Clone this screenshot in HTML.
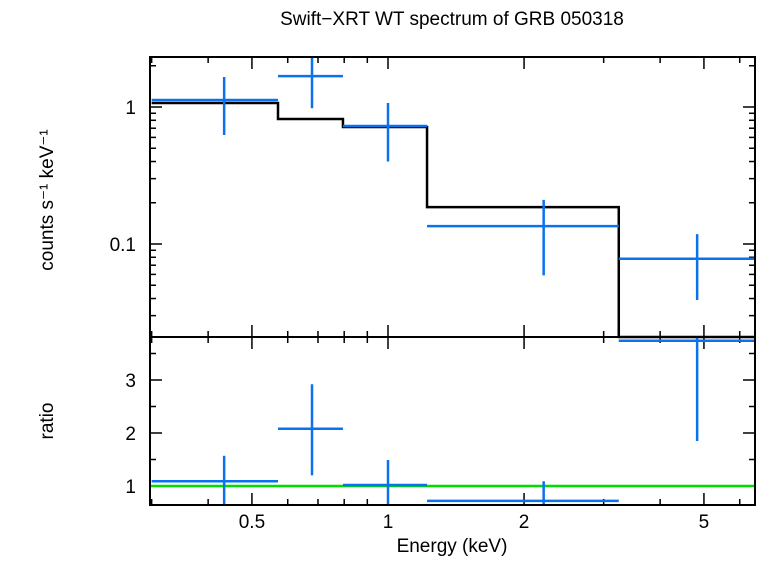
<!DOCTYPE html>
<html><head><meta charset="utf-8"><style>body{margin:0;background:#fff}svg text{font-family:"Liberation Sans",sans-serif}</style></head>
<body>
<svg id="c" width="758" height="556"></svg>
<script>
const edges=[0.3,0.571,0.795,1.22,3.24,6.49];
const centers=[0.434,0.679,1.0,2.21,4.83];
const rate=[1.125,1.68,0.727,0.135,0.078];
const rateHi=[1.655,2.3,1.07,0.21,0.118];
const rateLo=[0.625,0.98,0.40,0.059,0.039];
const model=[1.07,0.818,0.715,0.186,0.015];
const ratio=[1.09,2.08,1.02,0.72,3.74];
const ratioHi=[1.57,2.92,1.49,1.09,4.2];
const ratioLo=[0.55,1.2,0.55,0.3,1.85];
const xTicks=[0.5,1,2,5];
const yTopTicks=[0.1,1];
const yBotTicks=[1,2,3];
const X0=150,X1=755,T0=57,T1=337,B1=505;
const xs=e=>388+452*Math.log10(e);
const yt=v=>Math.min(T1,Math.max(T0,107-137*Math.log10(v)));
const yb=v=>Math.min(B1,Math.max(T1,486-53*(v-1)));
const svg=document.getElementById('c');const NS='http://www.w3.org/2000/svg';
function el(t,a,txt){const e=document.createElementNS(NS,t);for(const k in a)e.setAttribute(k,a[k]);if(txt!==undefined)e.textContent=txt;svg.appendChild(e);return e;}
function ln(x1,y1,x2,y2,c,w){return el('line',{x1,y1,x2,y2,stroke:c,'stroke-width':w});}
let e;
e=el('text',{x:452,y:25,'text-anchor':'middle','font-size':19},'Swift−XRT WT spectrum of GRB 050318');

e=el('text',{x:452,y:552,'text-anchor':'middle','font-size':19},'Energy (keV)');

e=el('text',{x:0,y:0,'text-anchor':'middle','font-size':19,transform:'translate(53,200) rotate(-90)'},'counts s⁻¹ keV⁻¹');

e=el('text',{x:0,y:0,'text-anchor':'middle','font-size':19,transform:'translate(53,421) rotate(-90)'},'ratio');

for(let d=0.3;d<=6.5;){const x=xs(d);const major=xTicks.includes(+d.toFixed(2))||d===1;const L=major?12:6;
 ln(x,T0,x,T0+L,'#000',1.5);ln(x,T1,x,T1-L,'#000',1.5);ln(x,T1,x,T1+L,'#000',1.5);ln(x,B1,x,B1-L,'#000',1.5);
 d=+(d<1?d+0.1:d+1).toFixed(2);}
xTicks.forEach(t=>{e=el('text',{x:xs(t),y:528,'text-anchor':'middle','font-size':19},String(t));});
[0.03,0.04,0.05,0.06,0.07,0.08,0.09,0.1,0.2,0.3,0.4,0.5,0.6,0.7,0.8,0.9,1,2].forEach(v=>{const y=yt(v);const L=yTopTicks.includes(v)?12:6;ln(X0,y,X0+L,y,'#000',1.5);ln(X1,y,X1-L,y,'#000',1.5);});
yTopTicks.forEach(t=>{e=el('text',{x:136,y:yt(t)+7,'text-anchor':'end','font-size':19},String(t));});
[1,1.5,2,2.5,3,3.5].forEach(v=>{const y=yb(v);const L=Number.isInteger(v)?12:6;ln(X0,y,X0+L,y,'#000',1.5);ln(X1,y,X1-L,y,'#000',1.5);});
yBotTicks.forEach(t=>{e=el('text',{x:136,y:yb(t)+7,'text-anchor':'end','font-size':19},String(t));});
let p='';model.forEach((m,i)=>{const y=yt(m);p+=(i?'L':'M')+xs(edges[i])+','+y+'L'+xs(edges[i+1])+','+y;});
e=el('path',{d:p,fill:'none',stroke:'#000','stroke-width':2.5});
e=ln(X0,yb(1),X1,yb(1),'#00dd00',2.5);
rate.forEach((v,i)=>{const g=[ln(xs(edges[i]),yt(v),xs(edges[i+1]),yt(v),'#0a72ee',2.5),ln(xs(centers[i]),yt(rateHi[i]),xs(centers[i]),yt(rateLo[i]),'#0a72ee',2.5)];
 g.forEach(q=>{});});
ratio.forEach((v,i)=>{const g=[ln(xs(edges[i]),yb(v),xs(edges[i+1]),yb(v),'#0a72ee',2.5),ln(xs(centers[i]),yb(ratioHi[i]),xs(centers[i]),yb(ratioLo[i]),'#0a72ee',2.5)];
 g.forEach(q=>{});});
e=el('rect',{x:X0,y:T0,width:X1-X0,height:T1-T0,fill:'none',stroke:'#000','stroke-width':2});
e=el('rect',{x:X0,y:T1,width:X1-X0,height:B1-T1,fill:'none',stroke:'#000','stroke-width':2});
</script>
</body></html>
